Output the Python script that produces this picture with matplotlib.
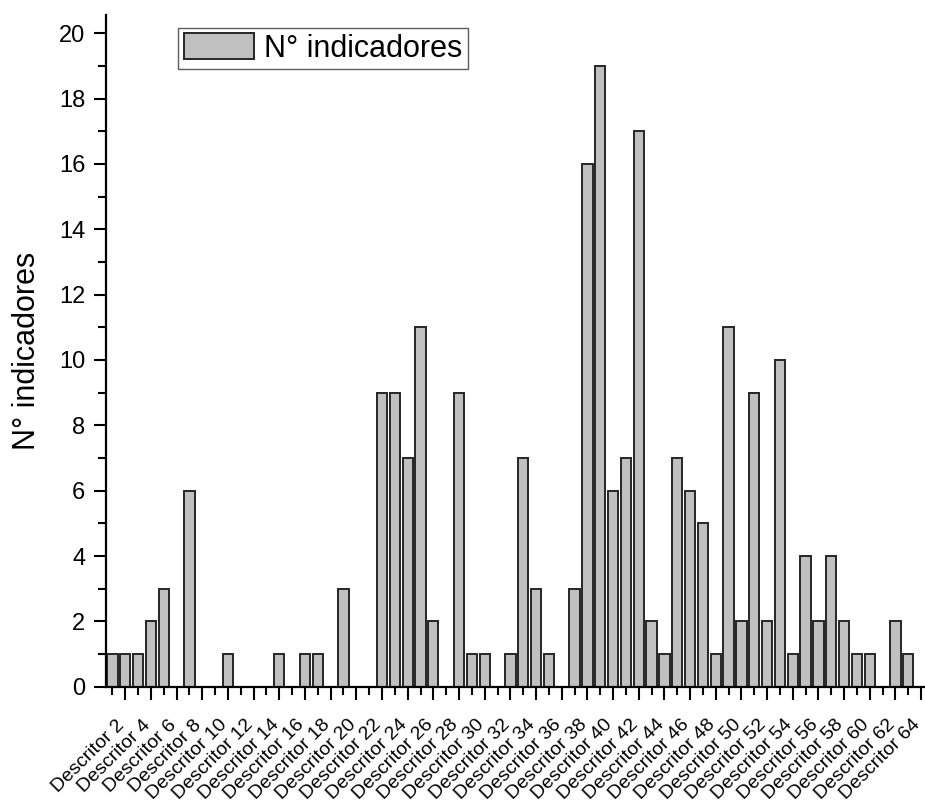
import matplotlib
matplotlib.use("Agg")
from matplotlib import pyplot as plt
import numpy as np

plt.rcParams['font.family'] = ['Liberation Sans', 'DejaVu Sans']

# number of indicators per descriptor (Descritor 1 .. Descritor 64)
descritores = np.arange(1, 65)
indicadores = [1, 1, 1, 2, 3, 0, 6, 0, 0, 1,
               0, 0, 0, 1, 0, 1, 1, 0, 3, 0,
               0, 9, 9, 7, 11, 2, 0, 9, 1, 1,
               0, 1, 7, 3, 1, 0, 3, 16, 19, 6,
               7, 17, 2, 1, 7, 6, 5, 1, 11, 2,
               9, 2, 10, 1, 4, 2, 4, 2, 1, 1,
               0, 2, 1, 0]
tick_pos = descritores[1::2]
tick_labels = ["Descritor %d" % d for d in tick_pos]

fig = plt.figure(figsize=(9.25, 8.07), dpi=100)
ax = fig.add_axes([106 / 925, 1 - 686.7 / 807, (925 - 106) / 925, (686.7 - 15) / 807])

ax.bar(descritores, indicadores, width=0.8, color="#c0c0c0",
       edgecolor="#262626", linewidth=1.4, label="N° indicadores")

ax.set_xlim(0.5, 64.3)
ax.set_ylim(0, 20.56)

ax.set_yticks(np.arange(0, 21, 2))
ax.set_yticks(np.arange(1, 20, 2), minor=True)
ax.set_xticks(tick_pos)
ax.set_xticks(descritores[0::2], minor=True)
# labels hang from the end of their baseline, just under each major tick
ax.set_xticklabels(tick_labels, rotation=45, ha="right", va="baseline",
                   rotation_mode="anchor", fontsize=14)
ax.tick_params(axis="y", labelsize=17, pad=6)
ax.tick_params(which="major", direction="out", length=9, width=1.5)
ax.tick_params(which="minor", direction="out", length=5.5, width=1.5)
ax.tick_params(axis="x", which="major", pad=19)

for side in ["top", "right"]:
    ax.spines[side].set_visible(False)
for side in ["left", "bottom"]:
    ax.spines[side].set_linewidth(1.6)

ax.set_ylabel("N° indicadores", fontsize=22, labelpad=12)

leg = ax.legend(loc="upper left", bbox_to_anchor=(178 / 925, 1 - 28 / 807),
                bbox_transform=fig.transFigure, fontsize=22, fancybox=False,
                frameon=True, handlelength=2.3, handleheight=0.9,
                handletextpad=0.35, borderpad=0.18, borderaxespad=0)
leg.get_frame().set_edgecolor("#333333")
leg.get_frame().set_linewidth(1.0)

fig.savefig("out.png", dpi=100)
